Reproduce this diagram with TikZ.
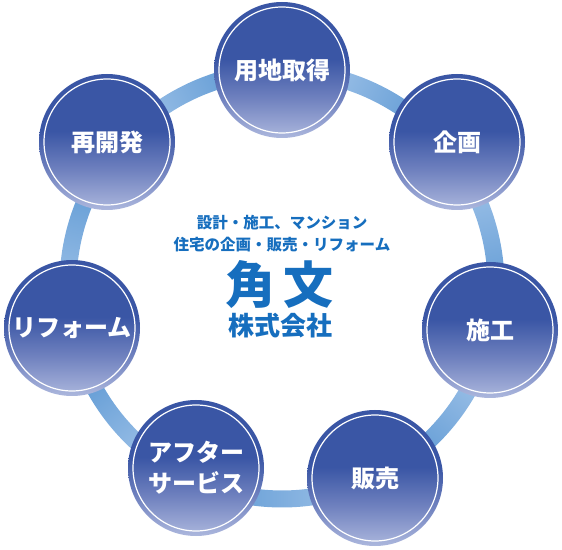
\documentclass[tikz,border=0pt]{standalone}
\usepackage{fontspec}
\newfontfamily\jpfont{Noto Sans CJK JP}
\definecolor{balltop}{RGB}{58,86,165}
\definecolor{ballmid}{RGB}{110,128,190}
\definecolor{ballbot}{RGB}{172,183,221}
\definecolor{ringlight}{RGB}{168,200,235}
\definecolor{ringdark}{RGB}{86,148,209}
\definecolor{titleblue}{RGB}{22,110,190}
\pgfdeclareverticalshading{ballshade}{100bp}{color(0bp)=(ballbot); color(25bp)=(ballbot); color(40bp)=(ballmid); color(54bp)=(balltop); color(100bp)=(balltop)}
\tikzset{
  stage/.style={circle, minimum size=136pt, inner sep=0pt, shading=ballshade, text=white, align=center,
    font=\jpfont\bfseries\fontsize{24}{31}\selectfont,
    path picture={\draw[white, line width=1.2pt] (path picture bounding box.center) circle[radius=63pt];}},
  centertext/.style={text=titleblue, inner sep=0pt, font=\jpfont\bfseries\fontsize{#1}{#1}\selectfont}
}
\begin{document}
\begin{tikzpicture}[x=1pt,y=1pt]
\useasboundingbox (0,0) rectangle (562,549);
\coordinate (c) at (282,264);
\foreach \i in {0,...,6}{
  \pgfmathsetmacro\a{90-51.4286*\i}
  \pgfmathsetmacro\e{\a-51.4286}
  \pgfmathsetmacro\m{\a-25.7143-180}
  \shade[shift={(c)}, top color=ringdark, bottom color=ringlight, shading angle=\m]
    (\a:222.5) arc[start angle=\a, end angle=\e, radius=222.5]
    -- (\e:205.5) arc[start angle=\e, end angle=\a, radius=205.5] -- cycle;
}
\node[stage] (land) at (282,479) {用地取得};
\node[stage] (plan) at (457,407) {企画};
\node[stage] (build) at (490,219) {施工};
\node[stage] (sales) at (375,71) {販売};
\node[stage] (after) at (196,81) {アフター\\サービス};
\node[stage] (reform) at (72,221) {リフォーム};
\node[stage] (redev) at (107,407) {再開発};
\node[centertext=15.5] (tagone) at (282,326) {設計・施工、マンション};
\node[centertext=15.5] (tagtwo) at (282,304) {住宅の企画・販売・リフォーム};
\node[centertext=50] (brand) at (279,264) {角\hspace{8pt}文};
\node[centertext=26] (corp) at (280,223) {株式会社};
\end{tikzpicture}
\end{document}
